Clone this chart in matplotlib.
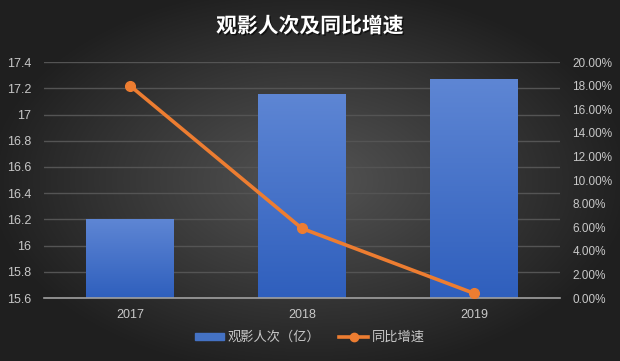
import matplotlib.pyplot as plt
import matplotlib.patheffects as pe
import numpy as np
from matplotlib.ticker import FuncFormatter
from matplotlib.colors import LinearSegmentedColormap
from matplotlib.patches import Patch
from matplotlib.lines import Line2D

plt.rcParams['font.family'] = ['Noto Sans CJK SC', 'DejaVu Sans']

years = ['2017', '2018', '2019']
viewers = [16.2, 17.16, 17.27]      # 观影人次（亿）
growth = [18.0, 5.9, 0.4]           # 同比增速 %

fig = plt.figure(figsize=(6.2, 3.61), dpi=100)

# radial gradient background
bg = fig.add_axes([0, 0, 1, 1])
yy, xx = np.mgrid[-1:1:361j, -1:1:620j]
r = np.clip(np.sqrt((xx / 1.05) ** 2 + (yy / 1.1) ** 2), 0, 1)
bgcmap = LinearSegmentedColormap.from_list('bg', ['#545454', '#3a3a3a', '#1f1f1f'])
bg.imshow(r, cmap=bgcmap, vmin=0, vmax=1, aspect='auto', extent=[0, 1, 0, 1])
bg.axis('off')

ax = fig.add_axes([0.071, 0.1745, 0.832, 0.6535])
ax.patch.set_alpha(0)
x = np.arange(len(years))
bars = ax.bar(x, viewers, width=0.51, color='#4472C4', zorder=2)

# gradient fill on bars
grad = np.linspace(0, 1, 256).reshape(-1, 1)
bcmap = LinearSegmentedColormap.from_list('b', ['#2f5fbd', '#5e86d4'])
for b in bars:
    bx = b.get_x()
    w, h = b.get_width(), b.get_height()
    im = ax.imshow(grad, cmap=bcmap, origin='lower', aspect='auto',
                   extent=[bx, bx + w, 15.6, b.get_y() + h], zorder=2)
    im.set_clip_path(b)
ax.set_xlim(-0.5, 2.5)
ax.set_ylim(15.6, 17.4)
ax.set_yticks(np.arange(15.6, 17.41, 0.2))
ax.yaxis.set_major_formatter(FuncFormatter(lambda v, p: ('%.1f' % v).rstrip('0').rstrip('.')))
ax.set_xticks(x)
ax.set_xticklabels(years)

ax.grid(axis='y', color='#545454', linewidth=1, zorder=0)
for s in ['top', 'left', 'right']:
    ax.spines[s].set_visible(False)
ax.spines['bottom'].set_color('#a0a0a0')
ax.spines['bottom'].set_linewidth(1.2)
ax.tick_params(axis='both', length=0, colors='#c8c8c8', labelsize=9)
ax.tick_params(axis='x', pad=8)
ax.tick_params(axis='y', pad=9)
for t in ax.get_xticklabels() + ax.get_yticklabels():
    t.set_family('Liberation Sans')

ax2 = ax.twinx()
ax2.plot(x, growth, color='#ED7D31', linewidth=2.6, marker='o', markersize=7, zorder=3)
ax2.set_ylim(0, 20)
ax2.set_yticks(np.arange(0, 20.1, 2))
ax2.yaxis.set_major_formatter(FuncFormatter(lambda v, p: '%.2f%%' % v))
for s in ['top', 'left', 'right', 'bottom']:
    ax2.spines[s].set_visible(False)
ax2.tick_params(axis='y', length=0, colors='#c8c8c8', labelsize=8.5, pad=9)
for t in ax2.get_yticklabels():
    t.set_family('Liberation Sans')

fig.text(0.5, 0.928, '观影人次及同比增速', ha='center', va='center', color='white',
         fontsize=15, fontweight='bold',
         path_effects=[pe.withSimplePatchShadow(offset=(1, -1), shadow_rgbFace='black', alpha=0.6)])

handles = [Patch(color='#4472C4'),
           Line2D([0], [0], color='#ED7D31', linewidth=2.6, marker='o', markersize=6)]
fig.legend(handles, ['观影人次（亿）', '同比增速'], loc='center', bbox_to_anchor=(0.5, 0.065),
           ncol=2, frameon=False, fontsize=9.5, labelcolor='#c8c8c8',
           handlelength=2.2, handleheight=0.4, columnspacing=1.4, handletextpad=0.3)

fig.savefig('out.png', dpi=100)
